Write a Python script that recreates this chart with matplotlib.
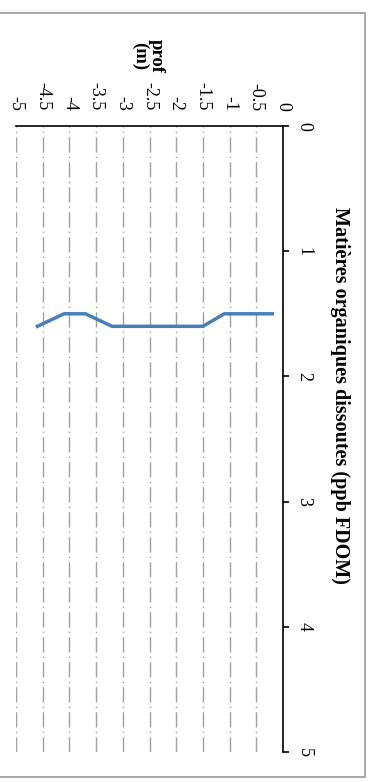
import matplotlib
matplotlib.use("Agg")
import matplotlib.pyplot as plt
from matplotlib.patches import Rectangle

plt.rcParams['font.family'] = ['Liberation Serif', 'DejaVu Serif']

# Profil vertical de FDOM
prof = [-0.2, -1.1, -1.5, -3.2, -3.7, -4.1, -4.6]
fdom = [1.5, 1.5, 1.6, 1.6, 1.5, 1.5, 1.6]

prof_ticks = [-5, -4.5, -4, -3.5, -3, -2.5, -2, -1.5, -1, -0.5, 0]
prof_labels = ['-5', '-4.5', '-4', '-3.5', '-3', '-2.5', '-2', '-1.5', '-1', '-0.5', '0']
fdom_ticks = [0, 1, 2, 3, 4, 5]
fdom_labels = ['0', '1', '2', '3', '4', '5']

W, H = 372, 782
fig = plt.figure(figsize=(W / 100, H / 100), dpi=100)

# cadre gris autour du graphique
fig.patches.append(Rectangle((-0.01, (H - 777) / H), 365 / W + 0.01, (777 - 13) / H,
                             transform=fig.transFigure, fill=False,
                             edgecolor='#a0a0a0', linewidth=1.3))

ax_l, ax_r, ax_t, ax_b = 16, 283, 126, 752
ax = fig.add_axes([ax_l / W, (H - ax_b) / H, (ax_r - ax_l) / W, (ax_b - ax_t) / H])

ax.plot(prof, fdom, color='#4a7ebb', linewidth=2.5, solid_joinstyle='miter', zorder=3)

ax.set_xlim(-5, 0)
ax.set_ylim(5, 0)

for s in ['left', 'bottom']:
    ax.spines[s].set_visible(False)
for s in ['top', 'right']:
    ax.spines[s].set_color('black')
    ax.spines[s].set_linewidth(1.2)

# axe des profondeurs (haut)
ax.xaxis.set_ticks_position('top')
ax.set_xticks(prof_ticks)
ax.set_xticklabels(prof_labels, rotation=-90, fontsize=13)
ax.tick_params(axis='x', length=0, pad=11)

# axe FDOM (droite)
ax.yaxis.set_ticks_position('right')
ax.set_yticks(fdom_ticks)
ax.set_yticklabels(fdom_labels, rotation=-90, fontsize=13, va='center')
ax.tick_params(axis='y', direction='out', length=4, width=1.2, pad=5, colors='black')

# lignes de quadrillage
for t in prof_ticks[:-1]:
    ax.axvline(t, color='#a0a0a0', linewidth=1.0, dashes=(11, 3, 1, 3), zorder=1)

fig.text(148 / W, 1 - 56 / H, 'prof\n(m)', rotation=-90, ha='center', va='center',
         fontsize=13.5, fontweight='bold', linespacing=1.0)

fig.text(340 / W, 1 - 395 / H, 'Matières organiques dissoutes (ppb FDOM)', rotation=-90,
         ha='center', va='center', fontsize=14.5, fontweight='bold')

fig.savefig('out.png', dpi=100)
